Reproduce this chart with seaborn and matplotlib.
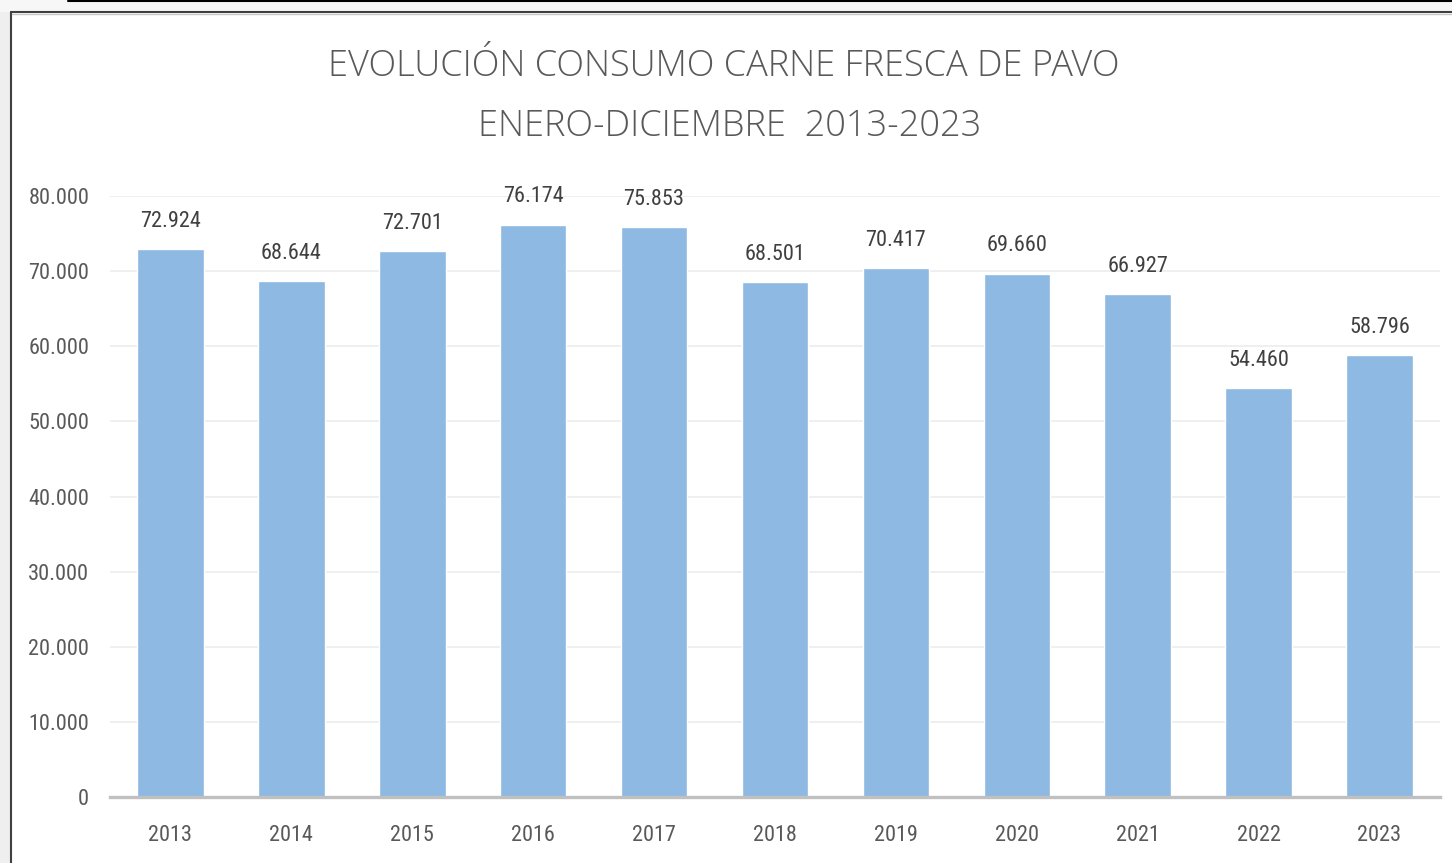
import matplotlib
matplotlib.use("Agg")
import matplotlib.pyplot as plt
import seaborn as sns
import pandas as pd
from matplotlib.patches import Rectangle
from matplotlib.lines import Line2D
from matplotlib.ticker import FuncFormatter
from matplotlib.font_manager import FontProperties

years = ["2013", "2014", "2015", "2016", "2017", "2018", "2019", "2020", "2021", "2022", "2023"]
consumo = [72924, 68644, 72701, 76174, 75853, 68501, 70417, 69660, 66927, 54460, 58796]
yticks = [0, 10000, 20000, 30000, 40000, 50000, 60000, 70000, 80000]
title_lines = ["EVOLUCIÓN CONSUMO CARNE FRESCA DE PAVO", "ENERO-DICIEMBRE  2013-2023"]

df = pd.DataFrame({"year": years, "consumo": consumo})

sns.set_theme(style="white")
plt.rcParams["font.family"] = ["Roboto Condensed", "DejaVu Sans"]

label_fp = FontProperties(family=["Roboto Condensed", "DejaVu Sans"], weight="normal", size=16)
title_fp = FontProperties(family=["Open Sans", "DejaVu Sans"], stretch="normal", weight=300, size=26)

fig = plt.figure(figsize=(14.52, 8.63), dpi=100)
fig.patch.set_facecolor("white")

W, H = 1452, 863
def fx(px): return px / W
def fy(py): return 1 - py / H

# screenshot frame decorations
fig.patches.append(Rectangle((0, 0), fx(10), 1, transform=fig.transFigure, facecolor="#efefef", edgecolor="none", zorder=-5))
fig.patches.append(Rectangle((0, fy(12)), 1, 12 / H, transform=fig.transFigure, facecolor="#f7f7f7", edgecolor="none", zorder=-5))
fig.lines.append(Line2D([fx(68), 1], [fy(0.8), fy(0.8)], transform=fig.transFigure, color="black", lw=1.5))
fig.lines.append(Line2D([fx(10.5), fx(10.5)], [0, fy(12.5)], transform=fig.transFigure, color="#404040", lw=1.5))
fig.lines.append(Line2D([fx(10.5), 1], [fy(12.5), fy(12.5)], transform=fig.transFigure, color="#404040", lw=1.5))
fig.lines.append(Line2D([fx(12), 1], [fy(14), fy(14)], transform=fig.transFigure, color="#c8c8c8", lw=1.0))

ax = fig.add_axes([fx(110), fy(797), fx(1440) - fx(110), (797 - 196) / H])
sns.barplot(data=df, x="year", y="consumo", color="#8DB9E2", saturation=1, width=0.55, ax=ax, zorder=3)

ax.set_ylim(0, 80000)
ax.set_xlim(-0.5, len(years) - 0.5)
ax.set_yticks(yticks)
ax.yaxis.set_major_formatter(FuncFormatter(lambda v, p: f"{int(v):,}".replace(",", ".")))
ax.grid(axis="y", color="#ececec", lw=1.2, zorder=0)
ax.set_axisbelow(True)
for s in ["top", "right", "left"]:
    ax.spines[s].set_visible(False)
ax.spines["bottom"].set_color("#c0c0c0")
ax.spines["bottom"].set_linewidth(2.4)
ax.spines["bottom"].set_zorder(4)
ax.set_xlabel("")
ax.set_ylabel("")
ax.tick_params(axis="y", length=0, pad=15, labelcolor="#595959")
ax.tick_params(axis="x", length=0, pad=20, labelcolor="#595959")
for lab in ax.get_xticklabels() + ax.get_yticklabels():
    lab.set_fontproperties(label_fp)

for i, v in enumerate(consumo):
    ax.annotate(f"{v:,}".replace(",", "."), (i, v), xytext=(0, 20), textcoords="offset points",
                ha="center", va="center", fontproperties=label_fp, color="#404040")

fig.text(fx(724), fy(66), title_lines[0], ha="center", va="center", fontproperties=title_fp, color="#595959")
fig.text(fx(730), fy(126), title_lines[1], ha="center", va="center", fontproperties=title_fp, color="#595959")

fig.savefig("out.png", dpi=100)
